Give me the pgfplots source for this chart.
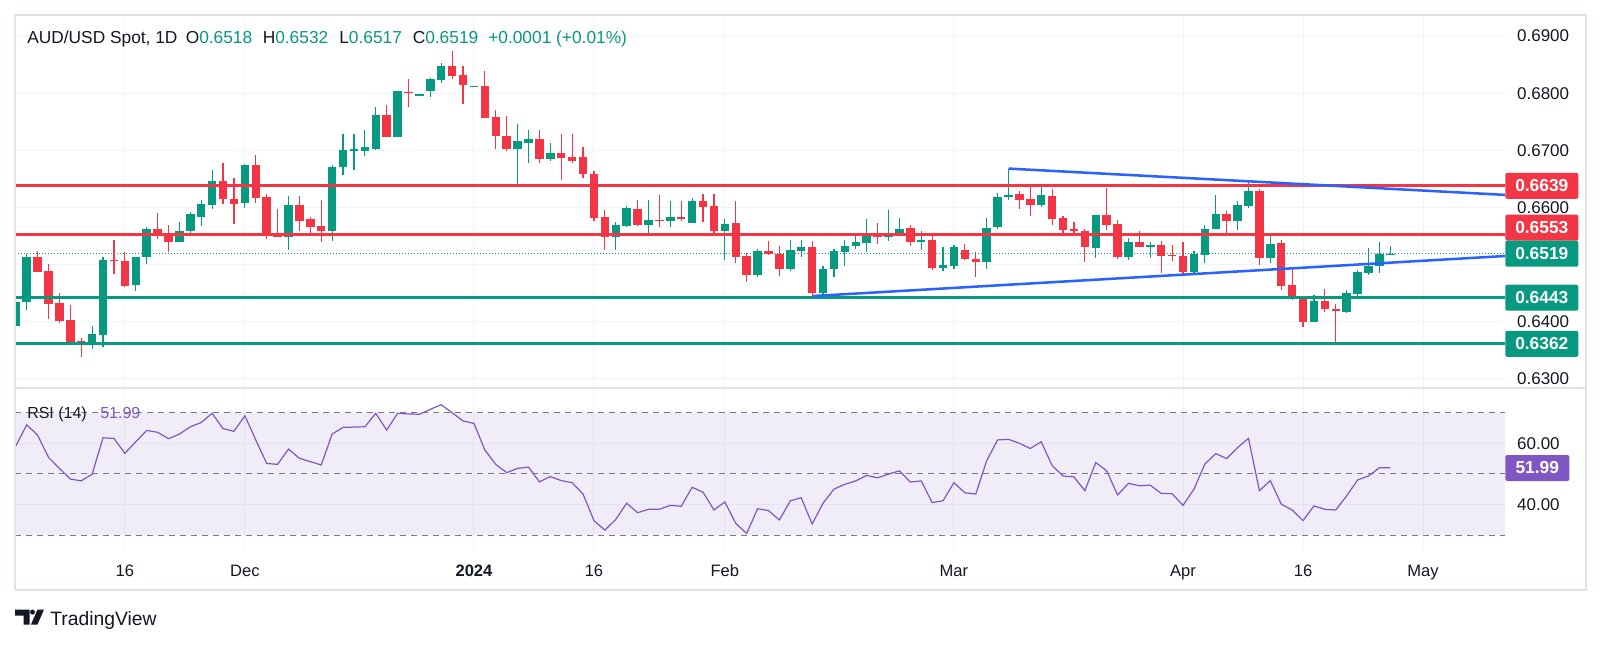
\documentclass[border=0pt]{standalone}
\usepackage{fontspec}
\setmainfont{Liberation Sans}
\usepackage{pgfplots}
\usepackage{pgfplotstable}
\pgfplotsset{compat=1.18}
\definecolor{tvgreen}{HTML}{089981}
\definecolor{tvred}{HTML}{F23645}
\definecolor{tvblue}{HTML}{2962FF}
\definecolor{tvpurple}{HTML}{7E57C2}
\definecolor{tvgrid}{HTML}{F0F3FA}
\definecolor{tvtext}{HTML}{131722}
\definecolor{tvdash}{HTML}{787B86}
\definecolor{tvframe}{HTML}{E0E3EB}
\newcommand\fz[1]{\fontsize{#1}{#1}\selectfont}

\pgfplotstableread{
i o h l c
-42 0.6393 0.6456 0.6389 0.6435
-41 0.6434 0.6519 0.6421 0.6514
-40 0.6514 0.6524 0.6488 0.6488
-39 0.6489 0.6502 0.6405 0.6432
-38 0.6433 0.6450 0.6398 0.6402
-37 0.6403 0.6429 0.6365 0.6365
-36 0.6366 0.6371 0.6339 0.6360
-35 0.6363 0.6393 0.6352 0.6379
-34 0.6377 0.6513 0.6356 0.6508
-33 0.6509 0.6543 0.6484 0.6507
-32 0.6506 0.6522 0.6460 0.6463
-31 0.6464 0.6514 0.6453 0.6514
-30 0.6514 0.6566 0.6501 0.6563
-29 0.6562 0.6591 0.6545 0.6553
-28 0.6556 0.6569 0.6523 0.6540
-27 0.6540 0.6575 0.6540 0.6559
-26 0.6558 0.6593 0.6552 0.6589
-25 0.6584 0.6614 0.6568 0.6606
-24 0.6605 0.6666 0.6597 0.6646
-23 0.6646 0.6678 0.6606 0.6614
-22 0.6615 0.6651 0.6571 0.6607
-21 0.6607 0.6676 0.6600 0.6675
-20 0.6674 0.6692 0.6607 0.6617
-19 0.6618 0.6623 0.6545 0.6553
-18 0.6552 0.6597 0.6549 0.6549
-17 0.6549 0.6620 0.6526 0.6604
-16 0.6604 0.6620 0.6559 0.6577
-15 0.6580 0.6584 0.6556 0.6566
-14 0.6568 0.6613 0.6540 0.6559
-13 0.6559 0.6674 0.6542 0.6671
-12 0.6670 0.6729 0.6657 0.6701
-11 0.6699 0.6729 0.6665 0.6702
-10 0.6699 0.6736 0.6691 0.6705
-9 0.6702 0.6776 0.6701 0.6762
-8 0.6762 0.6779 0.6724 0.6724
-7 0.6724 0.6803 0.6724 0.6803
-6 0.6802 0.6825 0.6775 0.6801
-5 0.6797 0.6799 0.6797 0.6798
-4 0.6804 0.6827 0.6794 0.6824
-3 0.6823 0.6852 0.6818 0.6847
-2 0.6847 0.6873 0.6825 0.6830
-1 0.6832 0.6847 0.6781 0.6814
0 0.6812 0.6813 0.6811 0.6813
1 0.6813 0.6839 0.6757 0.6757
2 0.6759 0.6771 0.6702 0.6726
3 0.6725 0.6760 0.6698 0.6702
4 0.6702 0.6747 0.6641 0.6716
5 0.6713 0.6736 0.6678 0.6720
6 0.6720 0.6736 0.6678 0.6685
7 0.6685 0.6712 0.6682 0.6696
8 0.6696 0.6729 0.6648 0.6687
9 0.6688 0.6729 0.6678 0.6682
10 0.6688 0.6706 0.6651 0.6658
11 0.6659 0.6664 0.6577 0.6582
12 0.6583 0.6595 0.6526 0.6549
13 0.6549 0.6575 0.6526 0.6569
14 0.6568 0.6603 0.6566 0.6599
15 0.6597 0.6614 0.6568 0.6570
16 0.6570 0.6613 0.6552 0.6578
17 0.6578 0.6622 0.6566 0.6577
18 0.6576 0.6611 0.6566 0.6583
19 0.6583 0.6611 0.6577 0.6580
20 0.6573 0.6616 0.6572 0.6611
21 0.6611 0.6624 0.6575 0.6601
22 0.6602 0.6623 0.6556 0.6559
23 0.6559 0.6580 0.6508 0.6572
24 0.6572 0.6611 0.6503 0.6514
25 0.6515 0.6520 0.6470 0.6482
26 0.6482 0.6527 0.6479 0.6524
27 0.6524 0.6542 0.6517 0.6519
28 0.6519 0.6533 0.6480 0.6492
29 0.6492 0.6543 0.6488 0.6526
30 0.6523 0.6543 0.6514 0.6530
31 0.6530 0.6542 0.6444 0.6451
32 0.6451 0.6497 0.6447 0.6492
33 0.6492 0.6528 0.6479 0.6524
34 0.6523 0.6544 0.6497 0.6533
35 0.6532 0.6552 0.6528 0.6539
36 0.6538 0.6580 0.6523 0.6554
37 0.6554 0.6572 0.6536 0.6548
38 0.6548 0.6596 0.6542 0.6555
39 0.6555 0.6581 0.6552 0.6562
40 0.6564 0.6570 0.6532 0.6540
41 0.6540 0.6559 0.6526 0.6543
42 0.6543 0.6550 0.6490 0.6495
43 0.6495 0.6530 0.6488 0.6499
44 0.6498 0.6534 0.6492 0.6530
45 0.6526 0.6537 0.6508 0.6509
46 0.6509 0.6523 0.6479 0.6505
47 0.6505 0.6581 0.6493 0.6565
48 0.6565 0.6625 0.6562 0.6618
49 0.6618 0.6668 0.6613 0.6622
50 0.6624 0.6629 0.6597 0.6613
51 0.6615 0.6636 0.6586 0.6604
52 0.6604 0.6636 0.6601 0.6622
53 0.6620 0.6632 0.6569 0.6580
54 0.6581 0.6585 0.6556 0.6561
55 0.6562 0.6575 0.6555 0.6559
56 0.6559 0.6563 0.6505 0.6531
57 0.6530 0.6587 0.6512 0.6587
58 0.6587 0.6635 0.6561 0.6569
59 0.6571 0.6578 0.6510 0.6514
60 0.6514 0.6546 0.6508 0.6539
61 0.6539 0.6559 0.6530 0.6531
62 0.6533 0.6539 0.6512 0.6534
63 0.6534 0.6542 0.6486 0.6515
64 0.6517 0.6534 0.6507 0.6515
65 0.6516 0.6539 0.6484 0.6488
66 0.6488 0.6524 0.6484 0.6519
67 0.6517 0.6569 0.6503 0.6563
68 0.6562 0.6621 0.6562 0.6588
69 0.6588 0.6594 0.6556 0.6577
70 0.6577 0.6611 0.6561 0.6604
71 0.6603 0.6645 0.6599 0.6629
72 0.6629 0.6632 0.6500 0.6512
73 0.6512 0.6553 0.6503 0.6537
74 0.6537 0.6543 0.6455 0.6463
75 0.6464 0.6495 0.6438 0.6442
76 0.6442 0.6444 0.6390 0.6400
77 0.6400 0.6447 0.6400 0.6436
78 0.6436 0.6457 0.6418 0.6422
79 0.6422 0.6432 0.6363 0.6418
80 0.6418 0.6456 0.6416 0.6450
81 0.6449 0.6491 0.6444 0.6487
82 0.6486 0.6530 0.6482 0.6498
83 0.6497 0.6539 0.6486 0.6519
84 0.6518 0.6532 0.6517 0.6519
}\candles

\pgfplotstableread{
i r
-42 59.1
-41 66.0
-40 62.7
-39 55.4
-38 51.8
-37 48.3
-36 47.7
-35 49.9
-34 61.8
-33 61.6
-32 56.7
-31 60.5
-30 64.2
-29 63.6
-28 61.5
-27 63.0
-26 65.4
-25 66.8
-24 69.8
-23 64.8
-22 63.9
-21 69.0
-20 61.1
-19 53.4
-18 53.1
-17 58.1
-16 55.1
-15 54.0
-14 52.9
-13 63.0
-12 65.2
-11 65.3
-10 65.4
-9 69.8
-8 64.3
-7 69.8
-6 69.6
-5 69.5
-4 71.1
-3 72.6
-2 70.0
-1 67.3
0 66.5
1 57.8
2 53.1
3 50.4
4 51.8
5 52.2
6 47.4
7 49.1
8 47.8
9 47.1
10 43.4
11 34.7
12 31.6
13 35.1
14 40.4
15 37.3
16 38.4
17 38.4
18 39.7
19 39.4
20 45.6
21 44.0
22 38.2
23 40.8
24 33.8
25 30.5
26 38.6
27 38.0
28 34.9
29 41.2
30 42.2
31 33.6
32 40.4
33 45.0
34 46.6
35 47.7
36 49.5
37 48.7
38 49.9
39 51.0
40 47.3
41 47.7
42 40.6
43 41.2
44 47.1
45 43.8
46 43.4
47 54.3
48 61.1
49 61.3
50 60.0
51 58.3
52 60.5
53 52.7
54 49.3
55 49.0
56 44.5
57 53.7
58 51.0
59 43.1
60 46.9
61 46.1
62 46.3
63 43.6
64 43.5
65 39.7
66 45.0
67 53.2
68 56.6
69 55.0
70 58.6
71 61.6
72 44.5
73 47.8
74 40.1
75 38.2
76 34.7
77 39.5
78 38.4
79 38.2
80 42.8
81 48.0
82 49.3
83 52.0
84 51.99
}\rsi

\pgfplotsset{
  tvax/.style={
    scale only axis, width=1117.5pt, xmin=-42.07, xmax=94.5,
    axis line style={draw=none}, major tick length=0pt,
    grid=major, grid style={tvgrid, line width=0.75pt},
    xtick={-32,-21,0,11,23,44,65,76,87},
    clip mode=individual,
    yticklabel pos=right,
    yticklabel style={anchor=west, inner sep=0pt, xshift=9pt, text=tvtext, font=\fz{12.75pt}},
    /pgf/number format/assume math mode=true,
    scaled y ticks=false,
  },
  candle/.style={only marks, mark size=0pt, mark options={draw=none, fill=none}, forget plot,
    error bars/y dir=both, error bars/y explicit, error bars/error mark=none},
}
\tikzset{
  pbox/.style={anchor=west, minimum width=54.75pt, minimum height=19.5pt, inner sep=0pt,
    text=white, font=\bfseries\fz{13pt}, rounded corners=1.5pt},
}

\begin{document}
\begin{tikzpicture}
\fill[white] (0,0) rectangle (1200.75pt,483pt);

% ---------- main price panel ----------
\begin{axis}[tvax, at={(11.25pt,192pt)}, anchor=south west, height=279.75pt,
  ymin=0.628408, ymax=0.693675,
  ytick={0.63,0.64,0.66,0.67,0.68,0.69},
  yticklabel style={/pgf/number format/.cd, fixed, fixed zerofill, precision=4},
  xticklabels={,,,,,,,,}]
  % grid line at 0.6500 (its label is hidden behind the last-price box)
  \addplot[tvgrid, line width=0.75pt, forget plot] coordinates {(-42.07,0.65) (94.5,0.65)};
  % last price dotted line
  \addplot[tvgreen, line width=0.75pt, dash pattern=on 0.75pt off 1.5pt, forget plot]
    coordinates {(-42.07,0.6519) (94.5,0.6519)};
  % wicks
  \addplot[candle, restrict expr to domain={\thisrow{c}-\thisrow{o}}{0:1},
    error bars/error bar style={draw=tvgreen, line width=0.9pt}]
    table[x=i, y expr={(\thisrow{h}+\thisrow{l})/2}, y error expr={(\thisrow{h}-\thisrow{l})/2}]{\candles};
  \addplot[candle, restrict expr to domain={\thisrow{c}-\thisrow{o}}{-1:-0.00001},
    error bars/error bar style={draw=tvred, line width=0.9pt}]
    table[x=i, y expr={(\thisrow{h}+\thisrow{l})/2}, y error expr={(\thisrow{h}-\thisrow{l})/2}]{\candles};
  % bodies
  \addplot[candle, restrict expr to domain={\thisrow{c}-\thisrow{o}}{0:1},
    error bars/error bar style={draw=tvgreen, line width=6.3pt}]
    table[x=i, y expr={(\thisrow{o}+\thisrow{c})/2}, y error expr={max(abs(\thisrow{c}-\thisrow{o})/2,0.00009)}]{\candles};
  \addplot[candle, restrict expr to domain={\thisrow{c}-\thisrow{o}}{-1:-0.00001},
    error bars/error bar style={draw=tvred, line width=6.3pt}]
    table[x=i, y expr={(\thisrow{o}+\thisrow{c})/2}, y error expr={max(abs(\thisrow{c}-\thisrow{o})/2,0.00009)}]{\candles};
  % support / resistance
  \addplot[tvred, line width=2.25pt] coordinates {(-42.07,0.6639) (94.5,0.6639)};
  \addplot[tvred, line width=2.25pt] coordinates {(-42.07,0.6553) (94.5,0.6553)};
  \addplot[tvgreen, line width=2.25pt] coordinates {(-42.07,0.6443) (94.5,0.6443)};
  \addplot[tvgreen, line width=2.25pt] coordinates {(-42.07,0.6362) (94.5,0.6362)};
  % trend lines
  \addplot[tvblue, line width=1.9pt] coordinates {(49,0.6668) (94.5,0.6622)};
  \addplot[tvblue, line width=1.9pt] coordinates {(31.1,0.6445) (94.5,0.6515)};
\end{axis}

% ---------- RSI panel ----------
\begin{axis}[tvax, at={(11.25pt,72pt)}, anchor=south west, height=120pt,
  ymin=25.748, ymax=78.078, ytick={40,60},
  yticklabel style={/pgf/number format/.cd, fixed, fixed zerofill, precision=2},
  xticklabels={16,Dec,\textbf{2024},16,Feb,Mar,Apr,16,May},
  xticklabel style={anchor=base, inner sep=0pt, yshift=-21.5pt, font=\fz{12.4pt}, text=tvtext}]
  \addplot[draw=none, fill=tvpurple, fill opacity=0.1, forget plot]
    coordinates {(-42.07,30) (94.5,30) (94.5,70) (-42.07,70)};
  \addplot[tvdash, line width=0.75pt, dash pattern=on 4.5pt off 3.75pt] coordinates {(-42.07,70) (94.5,70)};
  \addplot[tvdash, line width=0.75pt, dash pattern=on 4.5pt off 3.75pt] coordinates {(-42.07,50) (94.5,50)};
  \addplot[tvdash, line width=0.75pt, dash pattern=on 4.5pt off 3.75pt] coordinates {(-42.07,30) (94.5,30)};
  \addplot[tvpurple, line width=0.9pt] table[x=i, y=r]{\rsi};
\end{axis}

% ---------- frame, labels, legends, logo (image pixel coordinates) ----------
\begin{scope}[x=0.75pt, y=-0.75pt, yshift=483pt]
  \draw[tvframe, line width=1.1pt] (15,15) rectangle (1586,590);
  \draw[tvframe, line width=1.1pt] (15,388) -- (1586,388);
  % price scale boxes
  \node[pbox, fill=tvred]   at (1505,185.8) {0.6639};
  \node[pbox, fill=tvred]   at (1505,227.7) {0.6553};
  \node[pbox, fill=tvgreen] at (1505,253.7) {0.6519};
  \node[pbox, fill=tvgreen] at (1505,297.7) {0.6443};
  \node[pbox, fill=tvgreen] at (1505,343.8) {0.6362};
  \node[pbox, fill=tvpurple, minimum width=48pt] at (1505,468) {51.99};
  % legends
  \node[anchor=base west, inner sep=0pt, font=\fz{13pt}, text=tvtext] at (27,44) {AUD/USD Spot, 1D};
  \node[anchor=base west, inner sep=0pt, font=\fz{13pt}, text=tvtext] at (185.5,44) {O\textcolor{tvgreen}{0.6518}};
  \node[anchor=base west, inner sep=0pt, font=\fz{13pt}, text=tvtext] at (262.5,44) {H\textcolor{tvgreen}{0.6532}};
  \node[anchor=base west, inner sep=0pt, font=\fz{13pt}, text=tvtext] at (339,44) {L\textcolor{tvgreen}{0.6517}};
  \node[anchor=base west, inner sep=0pt, font=\fz{13pt}, text=tvtext] at (412.5,44) {C\textcolor{tvgreen}{0.6519}};
  \node[anchor=base west, inner sep=0pt, font=\fz{13pt}, text=tvgreen] at (488,44) {+0.0001 (+0.01\%)};
  \node[anchor=base west, inner sep=0pt, font=\fz{12pt}, text=tvtext] at (27,418.3) {RSI (14)};
  \node[anchor=base west, inner sep=0pt, font=\fz{12pt}, text=tvpurple] at (100,418.3) {51.99};
  % TradingView logo
  \fill[tvtext] (15,609.5) -- (29.5,609.5) -- (29.5,624.5) -- (23.5,624.5) -- (23.5,615.5) -- (15,615.5) -- cycle;
  \fill[tvtext] (32.5,612.1) circle (2.5);
  \fill[tvtext] (37.5,609.5) -- (44,609.5) -- (37.5,624.5) -- (31,624.5) -- cycle;
  \node[anchor=base west, inner sep=0pt, font=\fz{14.5pt}, text=tvtext] at (50,625) {TradingView};
\end{scope}
\pgfresetboundingbox
\useasboundingbox (0,0) rectangle (1200.75pt,483pt);
\end{tikzpicture}
\end{document}
